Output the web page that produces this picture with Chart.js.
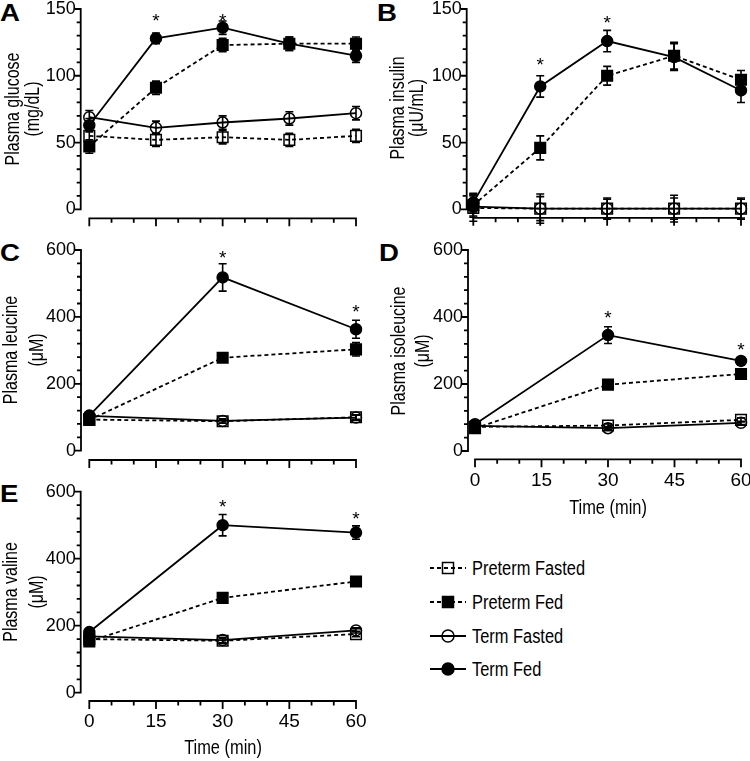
<!DOCTYPE html>
<html>
<head>
<meta charset="utf-8">
<title>Plasma glucose, insulin and branched-chain amino acids</title>
<script src="https://cdn.jsdelivr.net/npm/chart.js@4.4.1/dist/chart.umd.min.js"></script>
<style>
  html, body { margin: 0; padding: 0; background: #fff; }
  #page { position: relative; width: 750px; height: 761px; overflow: hidden; font-family: "Liberation Sans", Arial, sans-serif; color: #000; }
  #page canvas { position: absolute; }
  .tag { position: absolute; font-weight: bold; font-size: 23px; line-height: 1;
    transform: scaleX(1.2); transform-origin: left top; }
  .ytitle, .xtitle { position: absolute; white-space: nowrap; line-height: 22px; }
  .ytitle { font-size: 19.5px; transform: translate(-50%, -50%) rotate(-90deg) scaleX(0.82); }
  .xtitle { font-size: 20px; transform: translate(-50%, -50%) scaleX(0.82); }
  .legend-row { position: absolute; left: 430px; height: 24px; display: flex; align-items: center;
    font-size: 20px; white-space: nowrap; }
  .legend-row span { display: inline-block; transform: scaleX(0.82); transform-origin: left center; }
</style>
</head>
<body>
<div id="page">
  <div class="tag" style="left:0px;top:2px">A</div>
  <div class="tag" style="left:377px;top:2px">B</div>
  <div class="tag" style="left:0px;top:242px">C</div>
  <div class="tag" style="left:379px;top:242px">D</div>
  <div class="tag" style="left:0px;top:483px">E</div>
</div>
<script>
// time points (min)
const timeFull = [0, 15, 30, 45, 60];
const timeShort = [0, 30, 60];
const groups = ["Preterm Fasted", "Preterm Fed", "Term Fasted", "Term Fed"];

// A - glucose (mg/dL)
const glucosePretermFasted = [55, 52, 54, 52, 55];
const glucosePretermFed = [47, 91, 123, 124, 124];
const glucoseTermFasted = [69, 61, 65, 68, 72];
const glucoseTermFed = [63, 128, 136, 124, 115];
const glucoseErrPretermFasted = [5, 5, 5, 5, 5];
const glucoseErrPretermFed = [5, 5, 5, 5, 5];
const glucoseErrTermFasted = [5, 5, 5, 5, 5];
const glucoseErrTermFed = [5, 4, 5, 5, 5];

// B - insulin (uU/mL)
const insulinPretermFasted = [1, 0.5, 0.5, 0.5, 0.5];
const insulinPretermFed = [3, 46, 100, 115, 97];
const insulinTermFasted = [2, 0.5, 0.5, 0.5, 0.5];
const insulinTermFed = [5, 92, 126, 114, 89];
const insulinErrPretermFasted = [10, 11, 8, 10, 8];
const insulinErrPretermFed = [8, 9, 7, 10, 7];
const insulinErrTermFasted = [8, 9, 7, 8, 7];
const insulinErrTermFed = [7, 8, 8, 10, 9];

// C - leucine (uM)
const leucinePretermFasted = [93, 88, 100];
const leucinePretermFed = [92, 278, 303];
const leucineTermFasted = [104, 89, 99];
const leucineTermFed = [105, 518, 363];
const leucineErrPretermFasted = [6, 6, 6];
const leucineErrPretermFed = [6, 6, 20];
const leucineErrTermFasted = [6, 6, 8];
const leucineErrTermFed = [8, 41, 27];

// D - isoleucine (uM)
const isoleucinePretermFasted = [72, 76, 93];
const isoleucinePretermFed = [68, 198, 230];
const isoleucineTermFasted = [75, 68, 84];
const isoleucineTermFed = [80, 346, 269];
const isoleucineErrPretermFasted = [5, 5, 6];
const isoleucineErrPretermFed = [5, 6, 8];
const isoleucineErrTermFasted = [5, 5, 5];
const isoleucineErrTermFed = [6, 25, 12];

// E - valine (uM)
const valinePretermFasted = [160, 155, 175];
const valinePretermFed = [153, 283, 332];
const valineTermFasted = [168, 157, 186];
const valineTermFed = [181, 500, 478];
const valineErrPretermFasted = [8, 8, 8];
const valineErrPretermFed = [8, 8, 14];
const valineErrTermFasted = [8, 8, 8];
const valineErrTermFed = [10, 32, 20];

// significance markers (x = time, y = value where the * sits)
const starGlucoseX = [15, 30], starGlucoseY = [144, 144];
const starInsulinX = [15, 30], starInsulinY = [111, 142];
const starLeucineX = [30, 60], starLeucineY = [588, 425];
const starIsoleucineX = [30, 60], starIsoleucineY = [406, 311];
const starValineX = [30, 60], starValineY = [565, 530];

const SANS = "'Liberation Sans', Arial, sans-serif";

const seriesStyle = [
  { dash: [4, 3], point: "rect", radius: 7.5, filled: false },
  { dash: [4, 3], point: "rect", radius: 7.5, filled: true },
  { dash: [], point: "circle", radius: 5.5, filled: false },
  { dash: [], point: "circle", radius: 5.5, filled: true },
];

Chart.defaults.color = "#000";
Chart.defaults.animation = false;

function splitAxes(gapY, gapX, yStep, yMinor) {
  return {
    id: "splitAxes",
    beforeDatasetsDraw(chart) {
      const { ctx, chartArea } = chart;
      const xs = chart.scales.x, ys = chart.scales.y;
      const ax = chartArea.left - gapY;
      const ay = chartArea.bottom + gapX;
      ctx.save();
      ctx.strokeStyle = "#000";
      ctx.lineWidth = 1.8;
      ctx.beginPath();
      ctx.moveTo(ax, ys.getPixelForValue(ys.min) + 0.9);
      ctx.lineTo(ax, ys.getPixelForValue(ys.max) - 0.9);
      for (let v = ys.min; v <= ys.max + 1e-6; v += yMinor) {
        const p = ys.getPixelForValue(v);
        const len = Math.abs(v % yStep) < 1e-6 ? 6 : 4;
        ctx.moveTo(ax - len, p);
        ctx.lineTo(ax, p);
      }
      ctx.moveTo(xs.getPixelForValue(0) - 0.9, ay);
      ctx.lineTo(xs.getPixelForValue(60) + 0.9, ay);
      for (let t = 0; t <= 60; t += 5) {
        const p = xs.getPixelForValue(t);
        const len = t % 15 === 0 ? 8 : 4.5;
        ctx.moveTo(p, ay);
        ctx.lineTo(p, ay + len);
      }
      ctx.stroke();
      ctx.restore();
    },
  };
}

function errorBars(errs) {
  return {
    id: "errorBars",
    beforeDatasetsDraw(chart) {
      const { ctx } = chart;
      const ys = chart.scales.y;
      ctx.save();
      ctx.strokeStyle = "#000";
      ctx.lineWidth = 1.6;
      chart.data.datasets.forEach((ds, i) => {
        chart.getDatasetMeta(i).data.forEach((pt, j) => {
          const v = ds.data[j].y, e = errs[i][j];
          const top = ys.getPixelForValue(v + e);
          const bot = ys.getPixelForValue(v - e);
          ctx.beginPath();
          ctx.moveTo(pt.x, top); ctx.lineTo(pt.x, bot);
          ctx.moveTo(pt.x - 4, top); ctx.lineTo(pt.x + 4, top);
          ctx.moveTo(pt.x - 4, bot); ctx.lineTo(pt.x + 4, bot);
          ctx.stroke();
        });
      });
      ctx.restore();
    },
  };
}

function stars(xs, ys) {
  return {
    id: "stars",
    afterDatasetsDraw(chart) {
      const { ctx } = chart;
      ctx.save();
      ctx.font = "19px " + SANS;
      ctx.fillStyle = "#000";
      ctx.textAlign = "center";
      ctx.textBaseline = "alphabetic";
      const m = ctx.measureText("*");
      const shift = (m.actualBoundingBoxAscent - m.actualBoundingBoxDescent) / 2;
      xs.forEach((t, i) => {
        ctx.fillText("*", chart.scales.x.getPixelForValue(t), chart.scales.y.getPixelForValue(ys[i]) + shift);
      });
      ctx.restore();
    },
  };
}

const panels = [
  {
    left: 0, top: 0, w: 375, h: 240, area: [89.3, 7.7, 356, 209.3], gapY: 8.6, gapX: 9,
    times: timeFull, yMax: 150, yStep: 50, yMinor: 10,
    values: [glucosePretermFasted, glucosePretermFed, glucoseTermFasted, glucoseTermFed],
    errors: [glucoseErrPretermFasted, glucoseErrPretermFed, glucoseErrTermFasted, glucoseErrTermFed],
    title: ["Plasma glucose", "(mg/dL)"], titleLine: 20, titleFirst: 12,
    starX: starGlucoseX, starY: starGlucoseY, xLabels: false,
  },
  {
    left: 375, top: 0, w: 375, h: 240, area: [98.3, 7.3, 366.7, 209.3], gapY: 6.6, gapX: 8.5,
    times: timeFull, yMax: 150, yStep: 50, yMinor: 10,
    values: [insulinPretermFasted, insulinPretermFed, insulinTermFasted, insulinTermFed],
    errors: [insulinErrPretermFasted, insulinErrPretermFed, insulinErrTermFasted, insulinErrTermFed],
    title: ["Plasma insulin", "(μU/mL)"], titleLine: 19, titleFirst: 21.7,
    starX: starInsulinX, starY: starInsulinY, xLabels: false,
  },
  {
    left: 0, top: 235, w: 375, h: 245, area: [89.3, 15, 356, 215.7], gapY: 8.3, gapX: 9.3,
    times: timeShort, yMax: 600, yStep: 200, yMinor: 40,
    values: [leucinePretermFasted, leucinePretermFed, leucineTermFasted, leucineTermFed],
    errors: [leucineErrPretermFasted, leucineErrPretermFed, leucineErrTermFasted, leucineErrTermFed],
    title: ["Plasma leucine", "(μM)"], titleLine: 26, titleFirst: 10,
    starX: starLeucineX, starY: starLeucineY, xLabels: false,
  },
  {
    left: 375, top: 235, w: 375, h: 287, area: [100, 15, 366, 216], gapY: 7, gapX: 8.3,
    times: timeShort, yMax: 600, yStep: 200, yMinor: 40,
    values: [isoleucinePretermFasted, isoleucinePretermFed, isoleucineTermFasted, isoleucineTermFed],
    errors: [isoleucineErrPretermFasted, isoleucineErrPretermFed, isoleucineErrTermFasted, isoleucineErrTermFed],
    title: ["Plasma isoleucine", "(μM)"], titleLine: 24.5, titleFirst: 22.5,
    starX: starIsoleucineX, starY: starIsoleucineY, xLabels: true, xTitleY: 507,
  },
  {
    left: 0, top: 480, w: 375, h: 281, area: [89.3, 11.7, 356, 212.7], gapY: 8.6, gapX: 8.3,
    times: timeShort, yMax: 600, yStep: 200, yMinor: 40,
    values: [valinePretermFasted, valinePretermFed, valineTermFasted, valineTermFed],
    errors: [valineErrPretermFasted, valineErrPretermFed, valineErrTermFasted, valineErrTermFed],
    title: ["Plasma valine", "(μM)"], titleLine: 26, titleFirst: 10,
    starX: starValineX, starY: starValineY, xLabels: true, xTitleY: 746.7,
  },
];

const page = document.getElementById("page");

function addText(cls, text, x, y) {
  const d = document.createElement("div");
  d.className = cls;
  d.textContent = text;
  d.style.left = x + "px";
  d.style.top = y + "px";
  page.appendChild(d);
}

panels.forEach((p) => {
  const canvas = document.createElement("canvas");
  canvas.width = p.w;
  canvas.height = p.h;
  canvas.style.left = p.left + "px";
  canvas.style.top = p.top + "px";
  page.appendChild(canvas);

  const [l, t, r, b] = p.area;
  const datasets = groups.map((name, i) => ({
    label: name,
    data: p.times.map((x, j) => ({ x, y: p.values[i][j] })),
    borderColor: "#000",
    borderWidth: 1.8,
    borderDash: seriesStyle[i].dash,
    pointStyle: seriesStyle[i].point,
    pointRadius: seriesStyle[i].radius,
    pointBorderWidth: 1.5,
    pointBorderColor: "#000",
    pointBackgroundColor: seriesStyle[i].filled ? "#000" : "rgba(0,0,0,0)",
    fill: false,
    tension: 0,
    clip: false,
  }));

  new Chart(canvas, {
    type: "line",
    data: { datasets },
    options: {
      responsive: false,
      animation: false,
      layout: { padding: { left: 0, top: t, right: p.w - r, bottom: 0 } },
      plugins: { legend: { display: false }, tooltip: { enabled: false } },
      scales: {
        x: {
          type: "linear", min: 0, max: 60,
          grid: { display: false, drawTicks: false },
          border: { display: false },
          ticks: {
            display: p.xLabels, stepSize: 15, padding: 18, maxRotation: 0,
            font: { family: SANS, size: 19 },
          },
          afterFit(scale) {
            scale.height = p.h - b;
            scale.paddingLeft = 0;
            scale.paddingRight = 0;
          },
        },
        y: {
          min: 0, max: p.yMax,
          grid: { display: false, drawTicks: false },
          border: { display: false },
          ticks: {
            stepSize: p.yStep, padding: p.gapY + 5,
            font: { family: SANS, size: 18 },
          },
          afterFit(scale) {
            scale.width = l;
            scale.paddingTop = 0;
            scale.paddingBottom = 0;
          },
        },
      },
    },
    plugins: [splitAxes(p.gapY, p.gapX, p.yStep, p.yMinor), errorBars(p.errors), stars(p.starX, p.starY)],
  });

  // axis titles as condensed html text
  const cy = p.top + (t + b) / 2;
  p.title.forEach((txt, k) => addText("ytitle", txt, p.left + p.titleFirst + k * p.titleLine, cy));
  if (p.xLabels) addText("xtitle", "Time (min)", p.left + (l + r) / 2, p.xTitleY);
});

// legend, drawn as html rows with small svg keys
const legendCenters = [568, 602, 636, 669];
groups.forEach((name, i) => {
  const s = seriesStyle[i];
  const fill = s.filled ? "#000" : "none";
  const dash = s.dash.length ? ' stroke-dasharray="4 3"' : "";
  const marker = s.point === "rect"
    ? `<rect x="12.5" y="4.5" width="11" height="11" fill="${fill}" stroke="#000" stroke-width="1.5"/>`
    : `<circle cx="18" cy="10" r="6" fill="${fill}" stroke="#000" stroke-width="1.5"/>`;
  const row = document.createElement("div");
  row.className = "legend-row";
  row.style.top = (legendCenters[i] - 12) + "px";
  row.innerHTML = `<svg width="42" height="20"><line x1="0" y1="10" x2="36" y2="10" stroke="#000" stroke-width="1.8"${dash}/>${marker}</svg><span>${name}</span>`;
  page.appendChild(row);
});
</script>
</body>
</html>
